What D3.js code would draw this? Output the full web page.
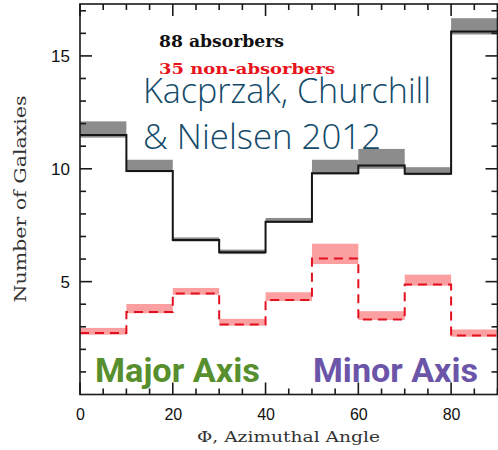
<!DOCTYPE html>
<html>
<head>
<meta charset="utf-8">
<script src="https://cdn.jsdelivr.net/npm/d3@7"></script>
<style>
  html, body { margin: 0; padding: 0; background: #fff; }
  svg { display: block; }
</style>
</head>
<body>
<svg id="chart" width="498" height="450"></svg>
<script>
// ---- data ----
const binEdges = [0, 10, 20, 30, 40, 50, 60, 70, 80, 90];
const absorbers = [11.5, 9.9, 6.85, 6.3, 7.65, 9.8, 10.15, 9.78, 16.08];
const absorbersBandLow = [11.38, 9.85, 6.78, 6.22, 7.6, 9.75, 10.0, 9.72, 15.95];
const absorbersBandHigh = [12.1, 10.4, 6.96, 6.42, 7.82, 10.4, 10.88, 10.07, 16.67];
const nonAbsorbers = [2.73, 3.66, 4.47, 3.1, 4.19, 6.02, 3.32, 4.87, 2.61];
const nonAbsorbersBandLow = [2.65, 3.6, 4.42, 3.05, 4.14, 5.78, 3.3, 4.82, 2.56];
const nonAbsorbersBandHigh = [2.95, 4.01, 4.72, 3.35, 4.53, 6.68, 3.69, 5.31, 2.88];
const xTicks = [0, 20, 40, 60, 80];
const yTicks = [5, 10, 15];

const svg = d3.select("#chart");
const mLeft = 80, mRight = 497.5, mTop = 4, mBottom = 394.5;
const x = d3.scaleLinear().domain([0, 90]).range([mLeft, mRight]);
const y = d3.scaleLinear().domain([0, 17.3]).range([mBottom, mTop]);

const g = svg.append("g");

function bands(low, high, color) {
  g.selectAll(null).data(low).enter().append("rect")
    .attr("x", (d, i) => x(binEdges[i]))
    .attr("width", (d, i) => x(binEdges[i + 1]) - x(binEdges[i]))
    .attr("y", (d, i) => y(high[i]))
    .attr("height", (d, i) => y(low[i]) - y(high[i]))
    .attr("fill", color);
}
bands(absorbersBandLow, absorbersBandHigh, "#8c8c8c");
bands(nonAbsorbersBandLow, nonAbsorbersBandHigh, "#fb9fa0");

function stepPts(vals) {
  const pts = vals.map((v, i) => [binEdges[i], v]);
  pts.push([binEdges[binEdges.length - 1], vals[vals.length - 1]]);
  return pts;
}
const line = d3.line().x(d => x(d[0])).y(d => y(d[1])).curve(d3.curveStepAfter);

g.append("path").datum(stepPts(absorbers)).attr("d", line)
  .attr("fill", "none").attr("stroke", "#151515").attr("stroke-width", 2);
g.append("path").datum(stepPts(nonAbsorbers)).attr("d", line)
  .attr("fill", "none").attr("stroke", "#e3101f").attr("stroke-width", 2)
  .attr("stroke-dasharray", "9,6");

// ---- axes (ticks inward, on all sides) ----
const axColor = "#1a1a1a";
const xMinor = d3.range(0, 91, 5);
const yMinor = d3.range(1, 18, 1);
const axG = svg.append("g").attr("stroke", axColor).attr("stroke-width", 1.6);
axG.append("rect").attr("x", mLeft).attr("y", mTop).attr("width", mRight - mLeft).attr("height", mBottom - mTop)
  .attr("fill", "none");
xMinor.forEach(v => {
  const len = v % 20 === 0 ? 12 : 6;
  axG.append("line").attr("x1", x(v)).attr("x2", x(v)).attr("y1", mBottom).attr("y2", mBottom - len);
  axG.append("line").attr("x1", x(v)).attr("x2", x(v)).attr("y1", mTop).attr("y2", mTop + len);
});
yMinor.forEach(v => {
  const len = v % 5 === 0 ? 12 : 6;
  axG.append("line").attr("y1", y(v)).attr("y2", y(v)).attr("x1", mLeft).attr("x2", mLeft + len);
  axG.append("line").attr("y1", y(v)).attr("y2", y(v)).attr("x1", mRight).attr("x2", mRight - len);
});

// tick labels via d3 axes (lines hidden)
const xAxis = d3.axisBottom(x).tickValues(xTicks).tickSize(0).tickPadding(14);
const xg = svg.append("g").attr("transform", `translate(0,${mBottom})`).call(xAxis);
xg.select(".domain").remove();
xg.selectAll("text").attr("font-family", "Liberation Sans, Arial, sans-serif")
  .attr("font-size", 16).attr("fill", "#111");

const yAxis = d3.axisLeft(y).tickValues(yTicks).tickSize(0).tickPadding(10);
const yg = svg.append("g").attr("transform", `translate(${mLeft},0)`).call(yAxis);
yg.select(".domain").remove();
yg.selectAll("text").attr("font-family", "Liberation Sans, Arial, sans-serif")
  .attr("font-size", 17).attr("fill", "#111");

// axis titles
const serifMono = "'DejaVu Serif', serif";
svg.append("text").attr("x", 288.5).attr("y", 442).attr("text-anchor", "middle")
  .attr("font-family", serifMono).attr("font-size", 14)
  .attr("textLength", 183).attr("lengthAdjust", "spacingAndGlyphs")
  .attr("fill", "#333").text("Φ, Azimuthal Angle");
svg.append("text").attr("transform", "translate(26,199) rotate(-90)").attr("text-anchor", "middle")
  .attr("font-family", serifMono).attr("font-size", 16)
  .attr("textLength", 207).attr("lengthAdjust", "spacingAndGlyphs")
  .attr("fill", "#333").text("Number of Galaxies");

// legend texts
svg.append("text").attr("x", 159).attr("y", 47)
  .attr("font-family", serifMono).attr("font-weight", "bold")
  .attr("font-size", 17).attr("fill", "#111").attr("textLength", 125).attr("lengthAdjust", "spacingAndGlyphs")
  .text("88 absorbers");
svg.append("text").attr("x", 159).attr("y", 74)
  .attr("font-family", serifMono).attr("font-weight", "bold")
  .attr("font-size", 15).attr("fill", "#e8141c").attr("textLength", 176).attr("lengthAdjust", "spacingAndGlyphs")
  .text("35 non-absorbers");

// annotation
svg.append("text").attr("x", 143).attr("y", 103)
  .attr("font-family", "'Open Sans', sans-serif").attr("font-weight", 300).attr("font-size", 34).attr("fill", "#124a6a")
  .attr("textLength", 288).attr("lengthAdjust", "spacingAndGlyphs")
  .text("Kacprzak, Churchill");
svg.append("text").attr("x", 143).attr("y", 149)
  .attr("font-family", "'Open Sans', sans-serif").attr("font-weight", 300).attr("font-size", 34).attr("fill", "#124a6a")
  .attr("textLength", 238).attr("lengthAdjust", "spacingAndGlyphs")
  .text("& Nielsen 2012");

svg.append("text").attr("x", 95).attr("y", 382)
  .attr("font-family", "Roboto, sans-serif").attr("font-weight", 700).attr("font-size", 33)
  .attr("fill", "#578f2e").attr("textLength", 165).attr("lengthAdjust", "spacingAndGlyphs")
  .text("Major Axis");
svg.append("text").attr("x", 313).attr("y", 382)
  .attr("font-family", "Roboto, sans-serif").attr("font-weight", 700).attr("font-size", 33)
  .attr("fill", "#6b55a8").attr("textLength", 165).attr("lengthAdjust", "spacingAndGlyphs")
  .text("Minor Axis");
</script>
</body>
</html>
